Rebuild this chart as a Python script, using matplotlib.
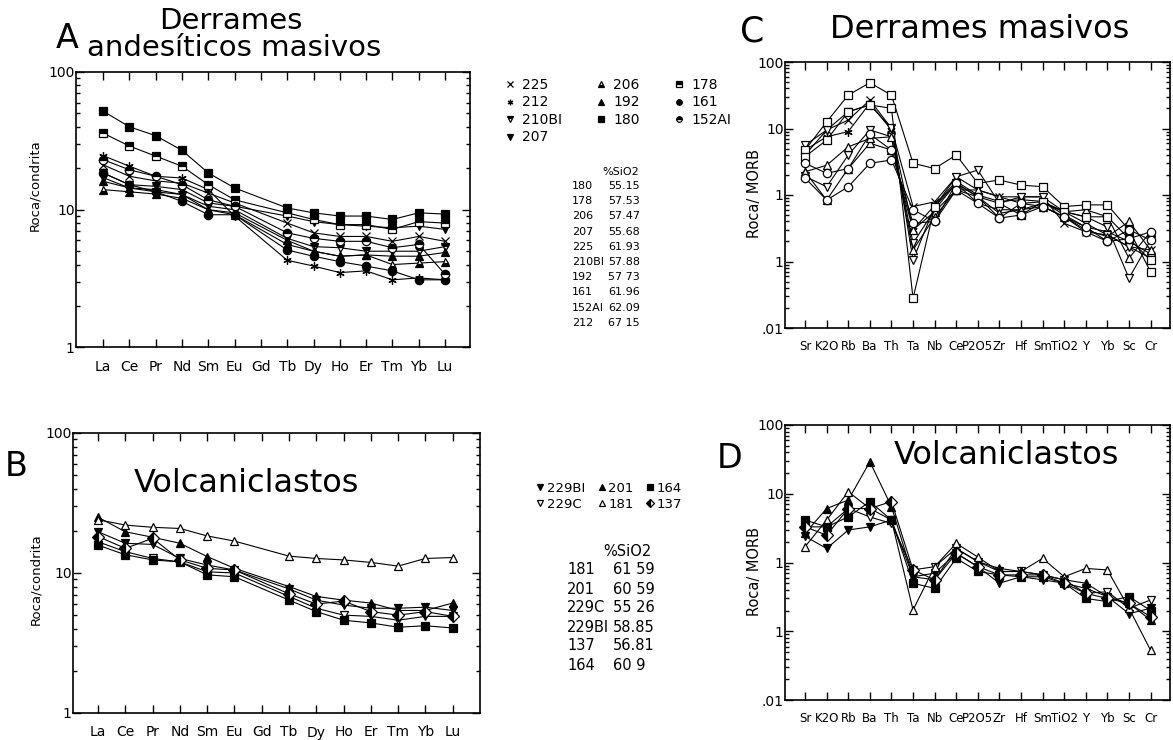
import numpy as np
import matplotlib
matplotlib.use("Agg")
import matplotlib.pyplot as plt
from matplotlib.lines import Line2D
from matplotlib.ticker import FixedLocator, FixedFormatter, LogLocator, NullFormatter

W, H = 1173, 740
nan = np.nan

# element axes
ree = ["La", "Ce", "Pr", "Nd", "Sm", "Eu", "Gd", "Tb", "Dy", "Ho", "Er", "Tm", "Yb", "Lu"]
spider = ["Sr", "K2O", "Rb", "Ba", "Th", "Ta", "Nb", "Ce", "P2O5", "Zr", "Hf", "Sm",
          "TiO2", "Y", "Yb", "Sc", "Cr"]

# --- A: derrames andesiticos masivos, roca/condrita (Gd not analysed)
a_names = ["225", "212", "210BI", "207", "206", "192", "180", "178", "161", "152AI"]
a_225 = [21.2, 17.5, 16.2, 15.6, 13.2, 11.2, nan, 8.0, 6.8, 6.4, 6.4, 5.9, 6.4, 5.9]
a_212 = [24.7, 20.7, 17.5, 17.0, 14.0, 9.0, nan, 4.3, 3.9, 3.5, 3.6, 3.1, 3.2, 3.1]
a_210BI = [17.1, 14.4, 13.5, 12.9, 10.6, 10.0, nan, 6.2, 5.4, 5.3, 5.0, 5.0, 5.0, 5.4]
a_207 = [18.5, 15.2, 14.8, 14.0, 11.2, 10.6, nan, 9.0, 8.2, 7.8, 7.6, 7.4, 7.6, 7.2]
a_206 = [14.0, 13.5, 13.0, 12.1, 10.0, 9.2, nan, 5.6, 5.0, 4.6, 4.7, 4.0, 4.1, 4.2]
a_192 = [16.1, 14.4, 14.0, 12.9, 10.0, 9.5, nan, 6.0, 5.0, 4.6, 4.7, 4.6, 4.6, 4.9]
a_180 = [52, 40, 34.5, 27, 18.5, 14.4, nan, 10.3, 9.5, 9.0, 9.0, 8.5, 9.5, 9.3]
a_178 = [36, 29, 24.5, 20.7, 15.2, 11.8, nan, 9.5, 8.5, 7.8, 7.8, 7.2, 8.2, 8.0]
a_161 = [18.5, 15.2, 13.5, 11.5, 9.2, 9.2, nan, 5.1, 4.6, 4.2, 3.9, 3.6, 3.1, 3.1]
a_152AI = [23.1, 19.5, 17.5, 15.2, 11.8, 10.6, nan, 6.8, 6.2, 5.9, 5.9, 5.3, 5.6, 3.4]
a_series = [a_225, a_212, a_210BI, a_207, a_206, a_192, a_180, a_178, a_161, a_152AI]

a_tab_names = ["180", "178", "206", "207", "225", "210BI", "192", "161", "152AI", "212"]
a_tab_sio2 = ["55.15", "57.53", "57.47", "55.68", "61.93", "57.88", "57 73", "61.96", "62.09", "67 15"]

# --- C: derrames masivos, roca/MORB
c_225 = [4.0, 9.5, 13.4, 26.8, 10.1, 0.67, 0.79, 1.88, 1.19, 0.94, 0.94, 0.94, 0.375, 0.28, 0.25, 0.167, 0.149]
c_212 = [4.75, 7.5, 9.0, 24.0, 9.5, 0.30, 0.70, 1.6, 1.0, 0.80, 0.85, 0.80, 0.50, 0.33, 0.28, 0.20, 0.13]
c_210BI = [5.6, 9.5, 17.9, 22.6, 10.1, 0.105, 0.67, 1.88, 2.37, 0.75, 0.94, 0.94, 0.56, 0.47, 0.33, 0.056, 0.21]
c_207 = [1.9, 1.33, 4.0, 9.5, 7.5, 0.188, 0.60, 1.5, 0.75, 0.60, 0.60, 0.75, 0.56, 0.375, 0.25, 0.167, 0.112]
c_206 = [2.24, 0.84, 2.5, 6.0, 4.75, 0.30, 0.56, 1.19, 0.94, 0.53, 0.60, 0.67, 0.47, 0.30, 0.236, 0.40, 0.149]
c_192 = [2.24, 2.8, 5.3, 7.1, 7.5, 0.149, 0.47, 1.19, 1.19, 0.94, 0.75, 0.79, 0.56, 0.60, 0.47, 0.112, 0.28]
c_180 = [4.75, 12.6, 31.8, 48.8, 31.8, 3.0, 2.5, 4.0, 1.5, 1.68, 1.41, 1.33, 0.67, 0.71, 0.71, 0.30, 0.07]
c_178 = [3.77, 6.7, 17.9, 22.6, 20.1, 0.028, 0.67, 1.5, 0.94, 0.75, 0.50, 0.79, 0.56, 0.47, 0.47, 0.22, 0.105]
c_161 = [3.0, 2.12, 2.5, 8.2, 4.75, 0.375, 0.40, 1.5, 0.94, 0.45, 0.75, 0.67, 0.47, 0.28, 0.20, 0.22, 0.28]
c_152AI = [1.8, 0.84, 1.33, 3.0, 3.36, 0.60, 0.40, 1.19, 0.75, 0.45, 0.50, 0.67, 0.47, 0.33, 0.20, 0.30, 0.21]
c_series = [c_225, c_212, c_210BI, c_207, c_206, c_192, c_180, c_178, c_161, c_152AI]

# --- B: volcaniclastos, roca/condrita
b_names = ["229BI", "229C", "201", "181", "164", "137"]
b_229BI = [19.7, 16.3, 16.0, 12.7, 11.4, 10.5, nan, 7.7, 6.4, 5.9, 5.6, 5.6, 5.7, 5.4]
b_229C = [16.7, 14.2, 12.7, 12.0, 10.2, 10.0, nan, 6.8, 5.6, 5.0, 4.9, 4.6, 4.9, 4.9]
b_201 = [25, 19.7, 18, 16.3, 13.1, 10.8, nan, 8.0, 6.8, 6.4, 6.1, 5.4, 5.4, 6.1]
b_181 = [24, 22, 21.2, 20.8, 18.4, 16.9, nan, 13.2, 12.7, 12.4, 11.9, 11.2, 12.7, 12.9]
b_164 = [15.8, 13.5, 12.4, 12.0, 9.7, 9.4, nan, 6.4, 5.3, 4.6, 4.4, 4.1, 4.2, 4.05]
b_137 = [18.2, 15.0, 17.7, 12.4, 10.8, 10.5, nan, 7.1, 6.0, 6.3, 5.3, 5.0, 5.3, 4.9]
b_series = [b_229BI, b_229C, b_201, b_181, b_164, b_137]

b_tab_names = ["181", "201", "229C", "229BI", "137", "164"]
b_tab_sio2 = ["61 59", "60 59", "55 26", "58.85", "56.81", "60 9"]

# --- D: volcaniclastos, roca/MORB
d_229BI = [2.4, 1.6, 2.97, 3.3, 4.15, 0.62, 0.70, 1.36, 0.87, 0.50, 0.62, 0.56, 0.50, 0.42, 0.32, 0.18, 0.216]
d_229C = [3.3, 3.3, 6.1, 4.6, 3.7, 0.78, 0.87, 1.6, 1.03, 0.74, 0.74, 0.66, 0.56, 0.356, 0.376, 0.216, 0.285]
d_201 = [2.66, 6.1, 8.1, 29.2, 6.5, 0.62, 0.56, 1.6, 1.03, 0.82, 0.74, 0.66, 0.56, 0.50, 0.32, 0.254, 0.146]
d_181 = [1.7, 4.15, 10.7, 6.1, 4.15, 0.204, 0.87, 1.9, 1.2, 0.74, 0.74, 1.15, 0.62, 0.82, 0.78, 0.216, 0.053]
d_164 = [4.15, 3.3, 4.6, 7.7, 4.15, 0.50, 0.42, 1.15, 0.74, 0.66, 0.62, 0.62, 0.50, 0.30, 0.27, 0.32, 0.20]
d_137 = [3.3, 2.5, 6.1, 6.1, 7.7, 0.78, 0.56, 1.36, 0.87, 0.66, 0.66, 0.66, 0.50, 0.356, 0.30, 0.254, 0.163]
d_series = [d_229BI, d_229C, d_201, d_181, d_164, d_137]

# marker styles (marker, fillstyle)
a_styles = [("x", "none"), ((6, 2, 0), "full"), ("v", "top"), ("v", "full"), ("^", "bottom"),
            ("^", "full"), ("s", "full"), ("s", "top"), ("o", "full"), ("o", "top")]
b_styles = [("v", "full"), ("v", "none"), ("^", "full"), ("^", "none"), ("s", "full"), ("D", "left")]

plt.rcParams["font.family"] = ["DejaVu Sans"]


def px(x, y):
    return x / W, 1 - y / H


def mk(style, ms, openonly=False):
    m, fs = style
    if openonly and fs != "none":
        fs = "none"
    kw = dict(marker=m, ms=ms, mec="black", mew=0.9)
    if fs == "none":
        kw.update(mfc="white")
    elif fs == "full":
        kw.update(mfc="black")
    else:
        kw.update(mfc="black", fillstyle=fs, markerfacecoloralt="white")
    return kw


def draw(ax, labels, series, styles, ymin, yticks, yticklabels, xlim, xsize, openonly=False):
    x = np.arange(len(labels))
    for vals, st in zip(series, styles):
        v = np.array(vals, float)
        ok = ~np.isnan(v)
        ax.plot(x[ok], v[ok], color="black", lw=0.8, **mk(st, 6, openonly))
    ax.set_yscale("log")
    ax.set_ylim(ymin, 100)
    ax.set_xlim(*xlim)
    ax.set_xticks(x)
    ax.set_xticklabels(labels, fontsize=xsize)
    ax.yaxis.set_major_locator(FixedLocator(yticks))
    ax.yaxis.set_major_formatter(FixedFormatter(yticklabels))
    ax.yaxis.set_minor_locator(LogLocator(base=10, subs=np.arange(2, 10)))
    ax.yaxis.set_minor_formatter(NullFormatter())
    ax.tick_params(which="both", direction="in", top=True, right=True, width=1.0)
    ax.tick_params(which="major", length=6)
    ax.tick_params(axis="y", labelsize=10, pad=1)
    ax.tick_params(which="minor", length=3)
    ax.tick_params(axis="x", pad=9)
    for s in ax.spines.values():
        s.set_linewidth(1.2)


fig = plt.figure(figsize=(W / 100, H / 100), dpi=100)

axA = fig.add_axes([76 / W, 1 - 347.5 / H, (470 - 76) / W, (347.5 - 72) / H])
axB = fig.add_axes([73 / W, 1 - 713 / H, (480 - 73) / W, (713 - 433) / H])
axC = fig.add_axes([785 / W, 1 - 328 / H, (1170 - 785) / W, (328 - 62) / H])
axD = fig.add_axes([785 / W, 1 - 700 / H, (1170 - 785) / W, (700 - 425) / H])

draw(axA, ree, a_series, a_styles, 1, [1, 10, 100], ["1", "10", "100"], (-1.03, 13.95), 10)
draw(axB, ree, b_series, b_styles, 1, [1, 10, 100], ["1", "10", "100"], (-0.92, 14.0), 10)
draw(axC, spider, c_series, a_styles, 0.01, [0.01, 0.1, 1, 10, 100],
     [".01", "1", "1", "10", "100"], (-0.93, 16.9), 8.5, openonly=True)
draw(axD, spider, d_series, b_styles, 0.01, [0.01, 0.1, 1, 10, 100],
     [".01", "1", "1", "10", "100"], (-0.93, 16.9), 8.5)

# titles and panel letters
fig.text(*px(67, 38), "A", fontsize=24, ha="center", va="center")
fig.text(*px(231, 21), "Derrames", fontsize=21, ha="center", va="center")
fig.text(*px(234, 48), "andesíticos masivos", fontsize=21, ha="center", va="center")
fig.text(*px(752, 31), "C", fontsize=25, ha="center", va="center")
fig.text(*px(980, 30), "Derrames masivos", fontsize=23, ha="center", va="center")
fig.text(*px(16, 467), "B", fontsize=24, ha="center", va="center")
fig.text(*px(247, 484), "Volcaniclastos", fontsize=23, ha="center", va="center")
fig.text(*px(730, 459), "D", fontsize=24, ha="center", va="center")
fig.text(*px(1007, 455), "Volcaniclastos", fontsize=23, ha="center", va="center")

# y axis labels
fig.text(*px(35, 185), "Roca/condrita", fontsize=9.5, rotation=90, ha="center", va="center")
fig.text(*px(36, 579), "Roca/condrita", fontsize=9.5, rotation=90, ha="center", va="center")
fig.text(*px(755, 193), "Roca/ MORB", fontsize=10.5, rotation=90, ha="center", va="center")
fig.text(*px(755, 571), "Roca/ MORB", fontsize=10.5, rotation=90, ha="center", va="center")

# legends
a_handles = [Line2D([], [], ls="none", **mk(st, 4)) for st in a_styles]
fig.legend(a_handles, a_names, ncol=3, loc="upper left", bbox_to_anchor=px(504, 78),
           frameon=False, fontsize=10, handlelength=0.8, handletextpad=0.5,
           columnspacing=2.4, labelspacing=0.25, borderpad=0, borderaxespad=0)
b_handles = [Line2D([], [], ls="none", **mk(st, 4)) for st in b_styles]
fig.legend(b_handles, b_names, ncol=3, loc="upper left", bbox_to_anchor=px(537, 482),
           frameon=False, fontsize=9.5, handlelength=0.5, handletextpad=0.25,
           columnspacing=1.0, labelspacing=0.2, borderpad=0, borderaxespad=0)

# %SiO2 tables
fig.text(*px(639, 172), "%SiO2", fontsize=8, ha="right", va="center")
for i, (n, s) in enumerate(zip(a_tab_names, a_tab_sio2)):
    y = 186 + 15.2 * i
    fig.text(*px(572, y), n, fontsize=8, ha="left", va="center")
    fig.text(*px(640, y), s, fontsize=8, ha="right", va="center")

fig.text(*px(627, 552), "%SiO2", fontsize=10.5, ha="center", va="center")
for i, (n, s) in enumerate(zip(b_tab_names, b_tab_sio2)):
    y = 570 + 19 * i
    fig.text(*px(567, y), n, fontsize=10.5, ha="left", va="center")
    fig.text(*px(613, y), s, fontsize=10.5, ha="left", va="center")

fig.savefig("out.png", dpi=100)
